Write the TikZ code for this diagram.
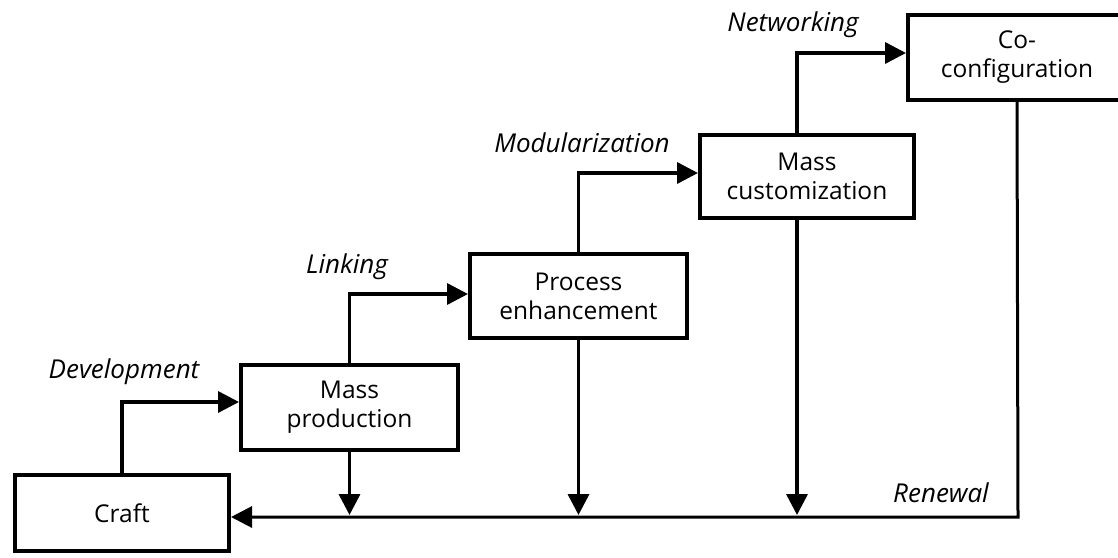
\documentclass[tikz,border=0pt]{standalone}
\usepackage{fontspec}
\setmainfont{Open Sans}
\usetikzlibrary{arrows.meta}
\begin{document}
\begin{tikzpicture}[x=1pt,y=-1pt,
  box/.style={draw,line width=4pt,rectangle,align=center,inner sep=0pt,
    font=\fontsize{24.5}{29}\selectfont},
  lbl/.style={font=\fontsize{26}{30}\selectfont\itshape,inner sep=0pt},
  arr/.style={line width=3.5pt,-{Triangle[length=21pt,width=21pt]}},
  ren/.style={line width=3pt}]
\useasboundingbox (0,0) rectangle (1118,557);
\clip (0,0) rectangle (1118,557);
\node[box,minimum width=214pt,minimum height=76pt] (craft) at (122,513) {Craft};
\node[box,minimum width=217pt,minimum height=85pt] (massprod) at (349.5,407.5) {Mass\\production};
\node[box,minimum width=217pt,minimum height=84pt] (procenh) at (578.5,296) {Process\\enhancement};
\node[box,minimum width=214pt,minimum height=83pt] (masscust) at (807,176.5) {Mass\\customization};
\node[box,minimum width=218pt,minimum height=85pt] (coconf) at (1017,57.5) {Co-\\configuration};
\node[lbl] (ldev) at (124,372) {Development};
\node[lbl] (llink) at (347,267) {Linking};
\node[lbl] (lmod) at (582,143) {Modularization};
\node[lbl] (lnet) at (793,25) {Networking};
\node[lbl] (lren) at (941,493) {Renewal};
\coordinate (rcorner) at (1018,517);
\draw[arr] (craft.north) |- (massprod.west |- 0,402);
\draw[arr] (massprod.north) |- (procenh.west |- 0,294);
\draw[arr] (procenh.north) |- (masscust.west |- 0,173);
\draw[arr] (masscust.north -| 797,0) |- (coconf.west |- 0,53);
\draw[ren,-{Triangle[length=21pt,width=21pt]}] (coconf.south) -- (rcorner) -- (craft.east |- rcorner);
\draw[arr] (massprod.south) -- (massprod.south |- 0,515);
\draw[arr] (procenh.south) -- (procenh.south |- 0,515);
\draw[arr] (masscust.south -| 797,0) -- (797,515);
\end{tikzpicture}
\end{document}
